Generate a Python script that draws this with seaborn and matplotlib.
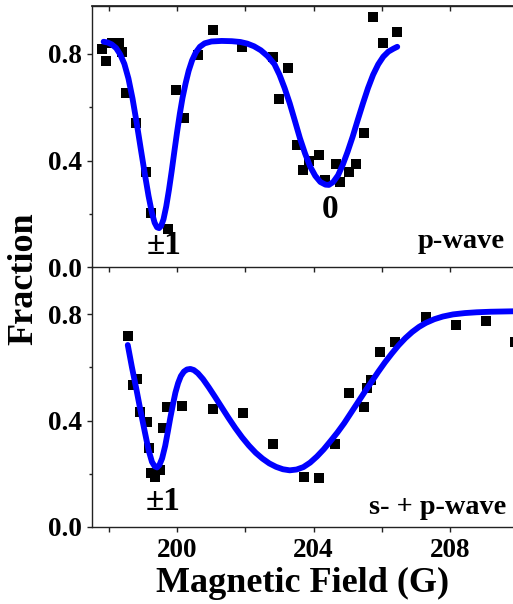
import numpy as np
import pandas as pd
import matplotlib
matplotlib.use("Agg")
import matplotlib.pyplot as plt
import seaborn as sns
from matplotlib.ticker import MultipleLocator, NullFormatter

# ---------------- data ----------------
# top panel (p-wave) measured points
top_field = [197.78, 197.90, 198.07, 198.27, 198.37, 198.49, 198.79, 199.07, 199.23, 199.71,
             199.96, 200.18, 200.60, 201.04, 201.89, 202.82, 202.99, 203.26, 203.51, 203.70,
             203.86, 204.17, 204.34, 204.66, 204.78, 205.04, 205.24, 205.49, 205.76, 206.04, 206.45]
top_frac = [0.819, 0.774, 0.840, 0.840, 0.808, 0.652, 0.542, 0.358, 0.202, 0.144,
            0.665, 0.559, 0.796, 0.890, 0.827, 0.790, 0.631, 0.746, 0.459, 0.365,
            0.400, 0.421, 0.327, 0.387, 0.321, 0.356, 0.387, 0.502, 0.940, 0.840, 0.881]

# top panel fit curve
top_fit_field = [197.83, 197.95, 198.07, 198.20, 198.32, 198.44, 198.56, 198.68, 198.80, 198.92,
                 199.04, 199.15, 199.25, 199.33, 199.40, 199.46, 199.52, 199.59, 199.67, 199.75,
                 199.83, 199.91, 199.99, 200.07, 200.15, 200.24, 200.33, 200.43, 200.54, 200.66,
                 200.80, 201.00, 201.30, 201.60, 201.85, 202.05, 202.25, 202.45, 202.65, 202.85,
                 203.00, 203.15, 203.30, 203.45, 203.60, 203.75, 203.90, 204.05, 204.20, 204.35,
                 204.45, 204.58, 204.72, 204.86, 205.00, 205.15, 205.30, 205.45, 205.60, 205.75,
                 205.90, 206.05, 206.20, 206.35, 206.46]
top_fit_frac = [0.846, 0.843, 0.836, 0.822, 0.798, 0.763, 0.708, 0.633, 0.543, 0.446,
                0.351, 0.268, 0.204, 0.167, 0.150, 0.147, 0.155, 0.180, 0.228, 0.290,
                0.360, 0.435, 0.508, 0.576, 0.636, 0.690, 0.737, 0.776, 0.806, 0.827,
                0.840, 0.847, 0.849, 0.848, 0.845, 0.839, 0.829, 0.814, 0.792, 0.762,
                0.722, 0.672, 0.615, 0.550, 0.484, 0.427, 0.378, 0.343, 0.320, 0.310,
                0.309, 0.320, 0.345, 0.385, 0.433, 0.490, 0.553, 0.614, 0.672, 0.722,
                0.761, 0.790, 0.809, 0.820, 0.827]

# bottom panel (s- + p-wave) measured points
bot_field = [198.54, 198.69, 198.81, 198.89, 199.10, 199.17, 199.23, 199.35, 199.49, 199.59,
             199.69, 200.13, 201.04, 201.93, 202.82, 203.72, 204.17, 204.63, 205.05, 205.49,
             205.56, 205.68, 205.96, 206.40, 207.30, 208.18, 209.07, 209.93]
bot_frac = [0.717, 0.533, 0.558, 0.433, 0.395, 0.296, 0.204, 0.189, 0.214, 0.373,
            0.450, 0.454, 0.442, 0.427, 0.312, 0.189, 0.185, 0.312, 0.502, 0.450,
            0.521, 0.552, 0.658, 0.696, 0.788, 0.761, 0.774, 0.696]

# bottom panel fit curve
bot_fit_field = [198.54, 198.66, 198.79, 198.91, 199.04, 199.15, 199.25, 199.33, 199.40, 199.47,
                 199.55, 199.64, 199.72, 199.79, 199.87, 199.94, 200.02, 200.10, 200.19, 200.28,
                 200.38, 200.48, 200.60, 200.75, 200.92, 201.10, 201.30, 201.50, 201.70, 201.90,
                 202.10, 202.30, 202.50, 202.70, 202.90, 203.10, 203.30, 203.50, 203.70, 203.90,
                 204.10, 204.30, 204.50, 204.70, 204.90, 205.10, 205.30, 205.50, 205.70, 205.90,
                 206.10, 206.30, 206.50, 206.70, 206.90, 207.10, 207.30, 207.55, 207.80, 208.10,
                 208.45, 208.80, 209.20, 209.60, 210.00]
bot_fit_frac = [0.684, 0.602, 0.520, 0.440, 0.358, 0.290, 0.245, 0.228, 0.224, 0.233,
                0.258, 0.305, 0.360, 0.410, 0.462, 0.505, 0.541, 0.567, 0.584, 0.592,
                0.594, 0.590, 0.578, 0.556, 0.525, 0.490, 0.450, 0.410, 0.372, 0.337,
                0.306, 0.279, 0.257, 0.239, 0.226, 0.217, 0.213, 0.216, 0.225, 0.242,
                0.265, 0.292, 0.323, 0.355, 0.390, 0.429, 0.468, 0.507, 0.545, 0.583,
                0.619, 0.652, 0.683, 0.710, 0.733, 0.752, 0.767, 0.781, 0.791, 0.799,
                0.804, 0.807, 0.809, 0.810, 0.811]

x_ticks = [200, 204, 208]
x_tick_labels = ["200", "204", "208"]
y_ticks = [0.0, 0.4, 0.8]
y_tick_labels = ["0.0", "0.4", "0.8"]

# ---------------- style ----------------
sns.set_theme(style="ticks")
plt.rcParams["font.family"] = ["Liberation Serif", "DejaVu Serif"]
plt.rcParams["font.weight"] = "bold"
plt.rcParams["text.color"] = "black"
plt.rcParams["axes.labelcolor"] = "black"
plt.rcParams["xtick.color"] = "black"
plt.rcParams["ytick.color"] = "black"

W, H = 513, 604
fig = plt.figure(figsize=(W / 100, H / 100), dpi=100)

left = 91.7 / W
right = 517.7 / W
width = right - left
y_top1 = 1 - 6 / H
y_mid = 1 - 267.3 / H
y_bot = 1 - 527.0 / H

ax1 = fig.add_axes([left, y_mid, width, y_top1 - y_mid])
ax2 = fig.add_axes([left, y_bot, width, y_mid - y_bot])
ax2.patch.set_alpha(0)

XLIM = (197.48, 210.0)
spine_col = "#222222"
TICK_FS = 19.5
line_kw = dict(color="#0000ff", linewidth=4.2, sort=False, estimator=None,
               solid_capstyle="round", solid_joinstyle="round")

def style(ax, ylim, show_xlabels):
    ax.set_xlim(*XLIM)
    ax.set_ylim(*ylim)
    for s in ax.spines.values():
        s.set_color(spine_col)
        s.set_linewidth(1.0)
    ax.set_xticks(x_ticks)
    ax.xaxis.set_minor_locator(MultipleLocator(2))
    ax.set_yticks(y_ticks)
    ax.set_yticklabels(y_tick_labels)
    ax.yaxis.set_minor_locator(MultipleLocator(0.2))
    ax.tick_params(axis="y", which="major", direction="out", length=3.6, width=1.0,
                   color=spine_col, labelcolor="black", labelsize=TICK_FS, pad=3.5,
                   left=True, right=False)
    ax.tick_params(axis="y", which="minor", direction="out", length=2.0, width=1.0,
                   color=spine_col, left=True, right=False)
    ax.tick_params(axis="x", which="both", direction="out", length=3.6, width=1.0,
                   color=spine_col, labelcolor="black", labelsize=TICK_FS, pad=4,
                   bottom=True, top=False)
    if show_xlabels:
        ax.set_xticklabels(x_tick_labels)
    else:
        ax.xaxis.set_major_formatter(NullFormatter())
    for lab in ax.get_xticklabels() + ax.get_yticklabels():
        lab.set_fontweight("bold")
    ax.set_xlabel("")
    ax.set_ylabel("")
    sec = ax.secondary_yaxis("right")
    sec.set_yticks(y_ticks)
    sec.yaxis.set_minor_locator(MultipleLocator(0.2))
    sec.tick_params(axis="y", which="both", direction="in", length=3.6, width=1.0,
                    color=spine_col, labelright=False)
    sec.spines["right"].set_color(spine_col)

# top panel
sns.scatterplot(x=top_field, y=top_frac, marker="s", color="black", s=55,
                linewidth=0, ax=ax1, zorder=2)
sns.lineplot(x=top_fit_field, y=top_fit_frac, ax=ax1, zorder=3, **line_kw)
style(ax1, (0, 0.98), False)
sec_top = ax1.secondary_xaxis("top")
sec_top.set_xticks(x_ticks)
sec_top.xaxis.set_minor_locator(MultipleLocator(2))
sec_top.tick_params(axis="x", which="both", direction="in", length=3.6, width=1.0,
                    color=spine_col, labeltop=False)
sec_top.spines["top"].set_color(spine_col)

ax1.text(199.60, 0.080, "±1", ha="center", va="center", fontsize=24, fontweight="bold",
         color="black")
ax1.text(204.49, 0.215, "0", ha="center", va="center", fontsize=24, fontweight="bold",
         color="black")
ax1.text(0.970, 0.097, "p-wave", transform=ax1.transAxes, ha="right", va="center",
         fontsize=20.5, fontweight="bold", color="black")

# bottom panel
sns.scatterplot(x=bot_field, y=bot_frac, marker="s", color="black", s=55,
                linewidth=0, ax=ax2, zorder=2)
sns.lineplot(x=bot_fit_field, y=bot_fit_frac, ax=ax2, zorder=3, **line_kw)
style(ax2, (0, 0.976), True)
ax2.spines["top"].set_visible(False)

ax2.text(199.59, 0.094, "±1", ha="center", va="center", fontsize=24, fontweight="bold",
         color="black")
ax2.text(0.974, 0.075, "s- + p-wave", transform=ax2.transAxes, ha="right", va="center",
         fontsize=20.3, fontweight="bold", color="black")

fig.text(24 / W, 1 - 279 / H, "Fraction", rotation=90, ha="center", va="center",
         fontsize=26, fontweight="bold", color="black")
fig.text(303 / W, 1 - 583 / H, "Magnetic Field (G)", ha="center", va="center",
         fontsize=26, fontweight="bold", color="black")

fig.savefig("out.png", dpi=100)
